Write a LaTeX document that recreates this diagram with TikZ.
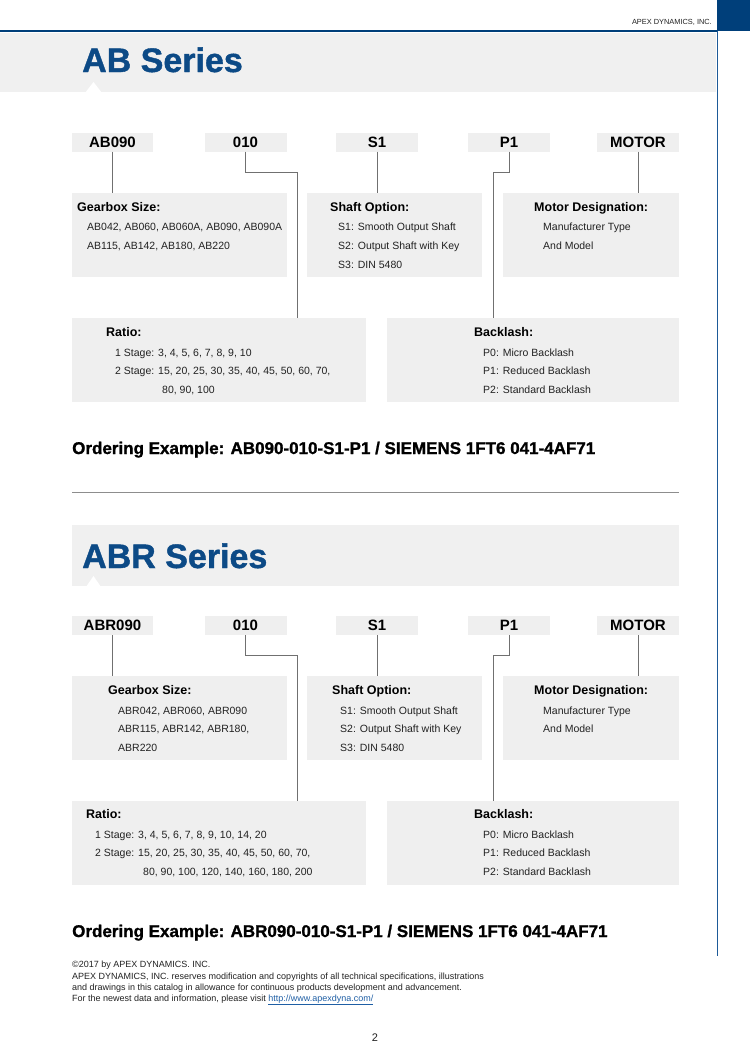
\documentclass[tikz,border=0pt]{standalone}
\usepackage{fontspec}
\setmainfont{Liberation Sans}
\newfontfamily\heavyfont[FakeBold=1.2]{Liberation Sans Bold}
\definecolor{hdrblue}{HTML}{003F7A}
\definecolor{vblue}{HTML}{1D5A98}
\definecolor{ttlblue}{HTML}{0C4A86}
\definecolor{boxgray}{HTML}{EFEFEF}
\definecolor{bandgray}{HTML}{F0F0F0}
\definecolor{linegray}{HTML}{707070}
\definecolor{txt}{HTML}{222222}
\definecolor{linkblue}{HTML}{1F5FA5}
\newcommand{\fsz}[1]{\fontsize{#1}{#1}\selectfont}
\begin{document}
\begin{tikzpicture}[x=1pt,y=-1pt,
  codebox/.style={fill=boxgray, minimum height=19pt, inner sep=0pt, text=black, font=\fsz{15}\bfseries},
  infobox/.style={fill=boxgray, minimum height=84pt, inner sep=0pt},
  conn/.style={draw=linegray, line width=0.9pt},
  hdr/.style={anchor=base west, inner sep=0pt, text=black, font=\fsz{12.5}\bfseries},
  item/.style={anchor=base west, inner sep=0pt, text=txt, font=\fsz{10.5}},
  title/.style={anchor=base west, inner sep=0pt, text=ttlblue, font=\fsz{34}\heavyfont},
  order/.style={anchor=base west, inner sep=0pt, text=black, font=\fsz{17}\heavyfont},
  foot/.style={anchor=base west, inner sep=0pt, text=txt, font=\fsz{9}},
  band/.style={fill=bandgray},
  notch/.style={fill=white}
]
\useasboundingbox (0,0) rectangle (750,1047);
\fill[white] (0,0) rectangle (750,1047);

% header
\fill[hdrblue] (717,0) rectangle (750,31);
\draw[hdrblue, line width=2pt] (0,31) -- (717,31);
\draw[vblue, line width=1.6pt] (717.5,31) -- (717.5,956);
\node[anchor=base east, inner sep=0pt, text=txt, font=\fsz{7.4}] (company) at (712,24) {APEX DYNAMICS, INC.};

% ===== AB Series =====
\fill[band] (0,33) rectangle (716,92);
\fill[notch] (85,93) -- (102,93) -- (93.5,82) -- cycle;
\node[title] (abtitle) at (82,72) {AB Series};

\node[codebox, minimum width=81pt] (c1) at (112.5,142) {AB090};
\node[codebox, minimum width=82pt] (c2) at (245.5,142) {010};
\node[codebox, minimum width=82pt] (c3) at (377,142) {S1};
\node[codebox, minimum width=82pt] (c4) at (509,142) {P1};
\node[codebox, minimum width=82pt] (c5) at (638,142) {MOTOR};

\node[infobox, minimum width=214.5pt] (gb) at (179.25,235) {};
\node[infobox, minimum width=175pt] (sh) at (394.5,235) {};
\node[infobox, minimum width=176pt] (mo) at (591,235) {};
\node[infobox, minimum width=294pt] (ra) at (219,360) {};
\node[infobox, minimum width=292.5pt] (bl) at (532.75,360) {};

\coordinate (k1) at (297,172);
\coordinate (k2) at (493,172);
\draw[conn] (c1.south) -- (c1.south |- gb.north);
\draw[conn] (c2.south) |- (k1) -- (k1 |- ra.north);
\draw[conn] (c3.south) -- (c3.south |- sh.north);
\draw[conn] (c4.south) |- (k2) -- (k2 |- bl.north);
\draw[conn] (c5.south) -- (c5.south |- mo.north);

\node[hdr] (gbh) at (77,211) {Gearbox Size:};
\node[item] (gb1) at (87,230) {AB042, AB060, AB060A, AB090, AB090A};
\node[item] (gb2) at (87,249) {AB115, AB142,  AB180, AB220};

\node[hdr] (shh) at (330,211) {Shaft Option:};
\node[item] (sh1) at (338,230) {S1: Smooth Output Shaft};
\node[item] (sh2) at (338,249) {S2: Output Shaft with Key};
\node[item] (sh3) at (338,268) {S3: DIN 5480};

\node[hdr] (moh) at (534,211) {Motor Designation:};
\node[item] (mo1) at (543,230) {Manufacturer Type};
\node[item] (mo2) at (543,249) {And Model};

\node[hdr] (rah) at (106,336) {Ratio:};
\node[item] (ra1) at (115,356) {1 Stage: 3, 4, 5, 6, 7, 8, 9, 10};
\node[item] (ra2) at (115,374) {2 Stage: 15, 20, 25, 30, 35, 40, 45, 50, 60, 70,};
\node[item] (ra3) at (162,393) {80, 90, 100};

\node[hdr] (blh) at (474,336) {Backlash:};
\node[item] (bl1) at (483,356) {P0: Micro Backlash};
\node[item] (bl2) at (483,374) {P1: Reduced Backlash};
\node[item] (bl3) at (483,393) {P2: Standard Backlash};

\node[order] (ord1) at (72,454) {Ordering Example: AB090-010-S1-P1 / SIEMENS 1FT6 041-4AF71};

\draw[draw=linegray!80, line width=0.9pt] (72,492) coordinate (sepa) -- (679,492) coordinate (sepb);

% ===== ABR Series =====
\fill[band] (72,525) rectangle (679,586);
\fill[notch] (86,587) -- (101,587) -- (93.5,576) -- cycle;
\node[title] (abrtitle) at (82,568) {ABR Series};

\node[codebox, minimum width=81pt] (d1) at (112.5,625.5) {ABR090};
\node[codebox, minimum width=82pt] (d2) at (245.5,625.5) {010};
\node[codebox, minimum width=82pt] (d3) at (377,625.5) {S1};
\node[codebox, minimum width=82pt] (d4) at (509,625.5) {P1};
\node[codebox, minimum width=82pt] (d5) at (638,625.5) {MOTOR};

\node[infobox, minimum width=214.5pt] (gbr) at (179.25,718) {};
\node[infobox, minimum width=175pt] (shr) at (394.5,718) {};
\node[infobox, minimum width=176pt] (mor) at (591,718) {};
\node[infobox, minimum width=294pt] (rar) at (219,843) {};
\node[infobox, minimum width=292.5pt] (blr) at (532.75,843) {};

\coordinate (m1) at (297,655);
\coordinate (m2) at (493,655);
\draw[conn] (d1.south) -- (d1.south |- gbr.north);
\draw[conn] (d2.south) |- (m1) -- (m1 |- rar.north);
\draw[conn] (d3.south) -- (d3.south |- shr.north);
\draw[conn] (d4.south) |- (m2) -- (m2 |- blr.north);
\draw[conn] (d5.south) -- (d5.south |- mor.north);

\node[hdr] (gbrh) at (108,694) {Gearbox Size:};
\node[item] (gbr1) at (118,714) {ABR042, ABR060,  ABR090};
\node[item] (gbr2) at (118,732) {ABR115, ABR142,  ABR180,};
\node[item] (gbr3) at (118,751) {ABR220};

\node[hdr] (shrh) at (332,694) {Shaft Option:};
\node[item] (shr1) at (340,714) {S1: Smooth Output Shaft};
\node[item] (shr2) at (340,732) {S2: Output Shaft with Key};
\node[item] (shr3) at (340,751) {S3: DIN 5480};

\node[hdr] (morh) at (534,694) {Motor Designation:};
\node[item] (mor1) at (543,714) {Manufacturer Type};
\node[item] (mor2) at (543,732) {And Model};

\node[hdr] (rarh) at (86,818) {Ratio:};
\node[item] (rar1) at (95,838) {1 Stage: 3, 4, 5, 6, 7, 8, 9, 10, 14, 20};
\node[item] (rar2) at (95,856) {2 Stage: 15, 20, 25, 30, 35, 40, 45, 50, 60, 70,};
\node[item] (rar3) at (143,875) {80, 90, 100, 120, 140, 160, 180, 200};

\node[hdr] (blrh) at (474,818) {Backlash:};
\node[item] (blr1) at (483,838) {P0: Micro Backlash};
\node[item] (blr2) at (483,856) {P1: Reduced Backlash};
\node[item] (blr3) at (483,875) {P2: Standard Backlash};

\node[order] (ord2) at (72,937) {Ordering Example: ABR090-010-S1-P1 / SIEMENS 1FT6 041-4AF71};

% ===== footer =====
\node[foot] (f1) at (72,967) {©2017 by APEX DYNAMICS. INC.};
\node[foot] (f2) at (72,979) {APEX DYNAMICS, INC. reserves modification and copyrights of all technical specifications, illustrations};
\node[foot] (f3) at (72,990) {and drawings in this catalog in allowance for continuous products development and advancement.};
\node[foot] (f4) at (72,1001) {For the newest data and information, please visit \textcolor{linkblue}{\underline{http://www.apexdyna.com/}}};
\node[anchor=base, inner sep=0pt, text=txt, font=\fsz{11}] (pg) at (375,1041) {2};
\end{tikzpicture}
\end{document}
